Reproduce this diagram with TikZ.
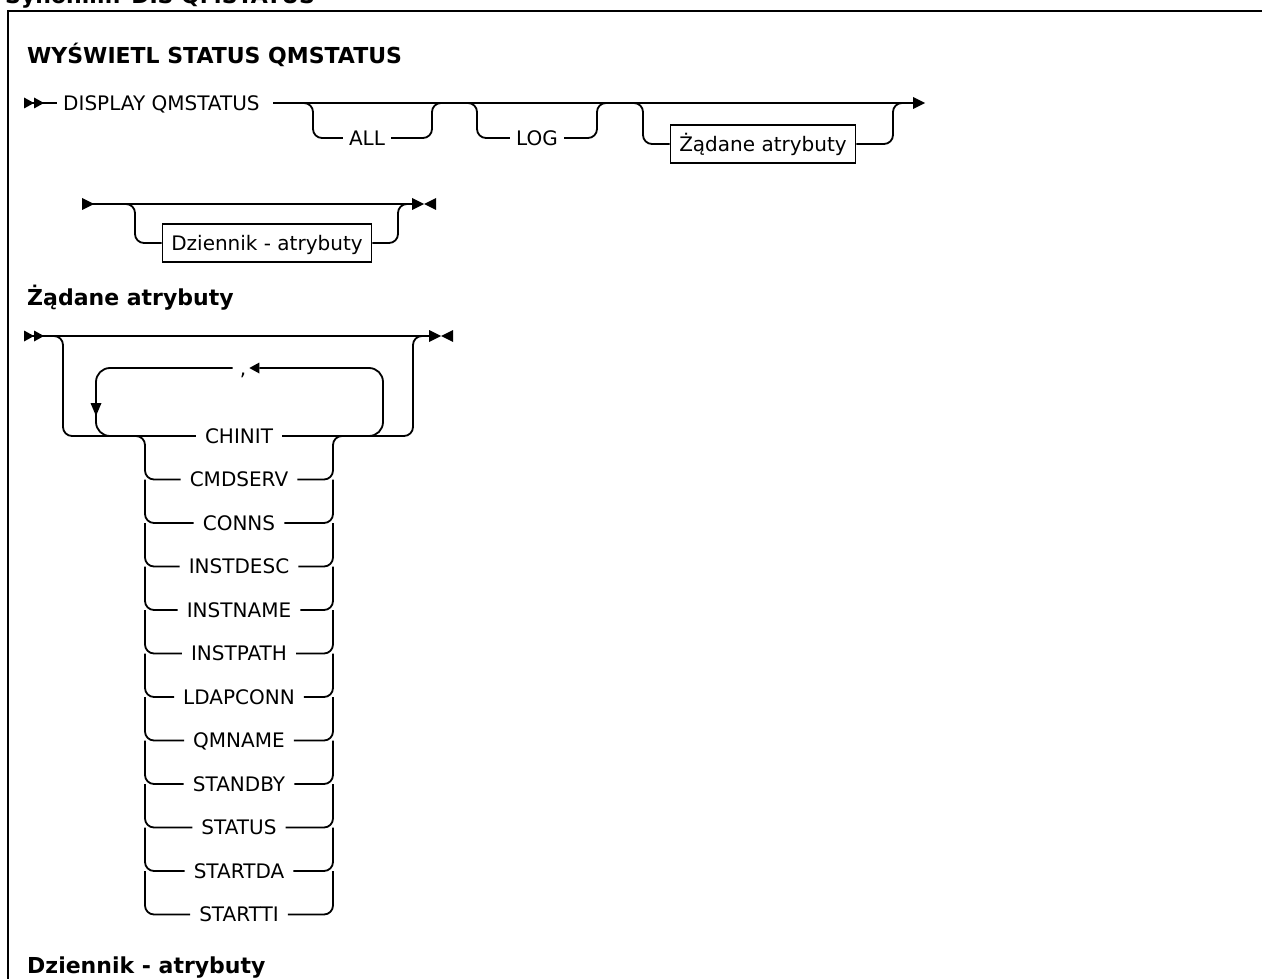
\documentclass[tikz,border=0pt]{standalone}
\usepackage{fontspec}
\setmainfont{DejaVu Sans}
\tikzset{
  rail/.style={line width=1.8pt, line join=round},
  rc/.style={rail, rounded corners=9pt},
  loopc/.style={rail, rounded corners=14pt},
  lbl/.style={font=\fontsize{20}{24}\selectfont, inner sep=0pt, text height=14.5pt, text depth=0pt},
  refbox/.style={draw, line width=1.5pt, font=\fontsize{20}{24}\selectfont, inner xsep=9pt, inner ysep=0pt,
                 text height=14.5pt, text depth=0pt, minimum height=38pt},
  heading/.style={font=\fontsize{22}{26}\selectfont\bfseries, inner sep=0pt, anchor=base west},
  % arrow heads of the rails, drawn as filled triangles
  pics/arR/.style={code={\fill (0,-6) -- (12,0) -- (0,6) -- cycle;}},
  pics/arL/.style={code={\fill (0,-6) -- (-12,0) -- (0,6) -- cycle;}},
  pics/arRs/.style={code={\fill (0,-5.5) -- (10,0) -- (0,5.5) -- cycle;}},
  pics/arLs/.style={code={\fill (0,-5.5) -- (-10,0) -- (0,5.5) -- cycle;}},
  pics/arD/.style={code={\fill (-5.5,0) -- (0,13) -- (5.5,0) -- cycle;}},
}
\begin{document}
\begin{tikzpicture}[x=1pt,y=-1pt]
\useasboundingbox (0,0) rectangle (1262,979);
\clip (0,0) rectangle (1262,979);

% frame and synonym line
\node[heading] (syn) at (5,4) {Synonim: DIS QMSTATUS};
\draw[line width=2pt] (8,995) -- (8,11) -- (1275,11);

% ---------- DISPLAY QMSTATUS ----------
\node[heading] (ttl) at (27,64) {WYŚWIETL STATUS QMSTATUS};
\coordinate (s1) at (24,103);
\pic at (24,103) {arRs};
\pic at (34,103) {arRs};
\node[lbl, anchor=west] (disp) at (63,103) {DISPLAY QMSTATUS};
\draw[rail] (s1) -- ([xshift=-6pt]disp.west);
\coordinate (m1a) at (273,103);
\coordinate (m1z) at (913,103);
\draw[rail] (m1a) -- (m1z);
\pic at (913,103) {arR};

% optional ALL
\coordinate (allL) at (313,103);
\coordinate (allR) at (432,103);
\node[lbl] (all) at (367,138) {ALL};
\draw[rc] ([xshift=-10pt]allL) -- (allL) -- (allL |- all) -- ([xshift=-6pt]all.west);
\draw[rc] ([xshift=6pt]all.east) -- (allR |- all) -- (allR) -- ([xshift=10pt]allR);

% optional LOG
\coordinate (logL) at (477,103);
\coordinate (logR) at (597,103);
\node[lbl] (log) at (537,138) {LOG};
\draw[rc] ([xshift=-10pt]logL) -- (logL) -- (logL |- log) -- ([xshift=-6pt]log.west);
\draw[rc] ([xshift=6pt]log.east) -- (logR |- log) -- (logR) -- ([xshift=10pt]logR);

% optional requested attributes
\coordinate (zatL) at (643,103);
\coordinate (zatR) at (893,103);
\node[refbox] (zat) at (763,144) {Żądane atrybuty};
\draw[rc] ([xshift=-10pt]zatL) -- (zatL) -- (zatL |- zat) -- (zat.west);
\draw[rc] (zat.east) -- (zatR |- zat) -- (zatR) -- ([xshift=10pt]zatR);

% continuation line
\coordinate (s2) at (82,204);
\coordinate (m2z) at (412,204);
\pic at (82,204) {arR};
\draw[rail] (s2) -- (m2z);
\pic at (412,204) {arR};
\pic at (436,204) {arL};
\coordinate (datL) at (135,204);
\coordinate (datR) at (398,204);
\node[refbox] (dat) at (267,243) {Dziennik - atrybuty};
\draw[rc] ([xshift=-10pt]datL) -- (datL) -- (datL |- dat) -- (dat.west);
\draw[rc] (dat.east) -- (datR |- dat) -- (datR) -- ([xshift=10pt]datR);

% ---------- Requested attributes ----------
\node[heading] (h2) at (27,305) {Żądane atrybuty};
\coordinate (s3) at (24,336);
\coordinate (m3z) at (429,336);
\pic at (24,336) {arRs};
\pic at (34,336) {arRs};
\draw[rail] (s3) -- (m3z);
\pic at (429,336) {arR};
\pic at (453,336) {arL};

\foreach \t [count=\k from 0] in {CHINIT,CMDSERV,CONNS,INSTDESC,INSTNAME,INSTPATH,
                                   LDAPCONN,QMNAME,STANDBY,STATUS,STARTDA,STARTTI}
  \node[lbl] (i\k) at (239,{436+43.5*\k}) {\t};

% outer optional branch
\coordinate (oL) at (63,336);
\coordinate (oR) at (413,336);
\draw[rc] ([xshift=-10pt]oL) -- (oL) -- (oL |- i0) -- ([xshift=-9pt]i0.west);
\draw[rc] ([xshift=9pt]i0.east) -- (oR |- i0) -- (oR) -- ([xshift=10pt]oR);

% repeat loop with comma separator
\coordinate (lpL) at (96,368);
\coordinate (lpR) at (383,368);
\coordinate (lpLb) at (120,436);
\coordinate (lpRb) at (360,436);
\node[lbl] (cm) at (243,368) {,};
\draw[loopc] (lpRb) -- (lpR |- lpRb) -- (lpR) -- ([xshift=13pt]cm.east);
\pic at ([xshift=13pt]cm.east) {arLs};
\draw[loopc] ([xshift=-7pt]cm.west) -- (lpL) -- (lpL |- lpLb) -- (lpLb);
\pic at (96,403) {arD};

% stacked choices
\coordinate (stL) at (145,436);
\coordinate (stR) at (333,436);
\draw[rc] ([xshift=-10pt]stL) -- (stL) -- (stL |- i1) -- ([xshift=-9pt]i1.west);
\draw[rc] ([xshift=9pt]i1.east) -- (stR |- i1) -- (stR) -- ([xshift=10pt]stR);
\foreach \k [remember=\k as \j (initially 1)] in {2,...,11} {
  \draw[rc] (stL |- i\j) -- (stL |- i\k) -- ([xshift=-9pt]i\k.west);
  \draw[rc] ([xshift=9pt]i\k.east) -- (stR |- i\k) -- (stR |- i\j);
}

% ---------- Log attributes ----------
\node[heading] (h3) at (27,973) {Dziennik - atrybuty};
\end{tikzpicture}
\end{document}
